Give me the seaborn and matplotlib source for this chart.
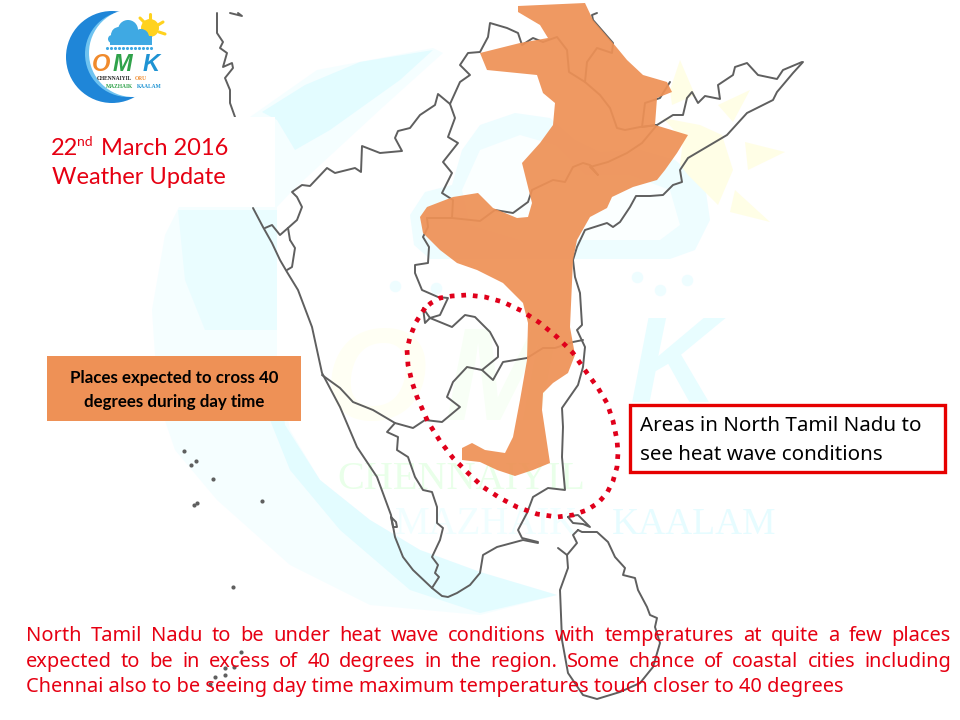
#-*- coding:utf-8 -*-

import numpy as np
from matplotlib import pyplot as plt
from matplotlib.patches import Circle, Rectangle
import seaborn as sns

heat_area = [(518,6),(585,3),(593,20),(613,43),(627,60),(643,75),(667,82),(672,92),(657,98),(655,125),
             (688,135),(677,153),(665,170),(657,180),(633,187),(612,197),(607,208),(590,217),(577,240),
             (573,260),(570,327),(575,355),(568,373),(553,383),(543,393),(542,410),(550,463),(533,470),
             (515,476),(497,470),(480,462),(462,460),(462,448),(472,443),(485,450),(505,453),(513,437),
             (520,400),(527,360),(528,323),(523,303),(503,283),(477,270),(457,263),(440,250),(423,233),
             (420,217),(427,207),(453,197),(478,193),(493,208),(517,218),(528,217),(532,203),(522,163),
             (540,143),(553,125),(555,103),(543,93),(537,75),(487,70),(480,53),(520,43),(548,38),(540,25),(518,12)]

west_coast = [(217,13),(217,33),(223,42),(220,48),(227,53),(223,67),(232,63),(233,68),(225,78),(230,90),(230,103),(235,117)]
top_stub = [(230,13),(242,16),(238,13)]
coast_south = [(253,208),(263,227),(272,243),(280,260),(287,272),(298,290),(312,327),(322,373),(340,407),(357,447),
               (377,477),(391,515),(395,537),(403,557),(413,570),(432,588),(442,596),(448,597),(457,593),(470,585),
               (480,573),(483,555),(497,547),(523,540),(538,543)]
lagoon = [(391,517),(393,527),(397,527),(396,522),(391,517)]
east_coast = [(803,62),(793,73),(777,92),(773,100),(747,113),(727,135),(688,158),(680,170),(682,182),(673,185),
              (663,195),(650,196),(636,196),(630,207),(620,222),(613,227),(607,223),(585,230),(577,247),(573,260),
              (575,277),(580,293),(582,325),(577,330),(585,347),(583,367),(578,385),(562,408),(563,427),(562,457),
              (565,490),(548,488),(533,497),(527,513),(518,530),(522,538),(538,542)]
north_border = [(265,228),(272,225),(280,235),(288,228),(297,220),(302,207),(297,197),(292,192),(302,185),(310,186),
                (327,168),(335,173),(355,168),(361,172),(362,146),(380,153),(402,151),(395,138),(398,131),(410,128),
                (420,115),(435,105),(438,94),(450,104),(460,82),(470,75),(460,65),(468,53),(480,52),(488,37),(490,23),
                (507,28),(518,33),(522,45),(533,38),(543,42)]
inner_1 = [(450,104),(455,118),(448,137),(458,143),(443,162),(452,173),(442,193),(453,200),(452,218)]
inner_2 = [(427,218),(452,218),(480,221),(495,210),(513,213),(528,202),(532,190),(553,180),(565,182),(573,167),(583,163),
           (590,165),(598,175),(590,167),(608,162),(627,153),(642,143),(657,125),(673,115),(683,115),(687,98),(692,92),
           (698,103),(705,96),(720,99),(718,85),(733,75),(735,67),(747,63),(758,75),(777,79),(783,70),(802,62)]
inner_3 = [(543,42),(557,37),(567,50),(569,72),(585,82),(600,95),(610,108),(617,128),(625,130),(640,127),(657,125)]
inner_4 = [(585,82),(587,62),(597,48),(612,53),(613,43),(593,20),(592,15),(597,13)]
inner_5 = [(657,125),(642,127),(645,103),(660,98),(670,82)]
karnataka = [(427,218),(428,227),(423,237),(429,247),(428,263),(415,265),(415,273),(422,290),(438,297),(448,298),(440,315),
             (430,318),(425,323),(423,308),(430,318),(452,327),(465,315),(475,317),(490,332),(498,347),(498,357),(482,370)]
south_border = [(322,375),(340,388),(353,402),(373,410),(395,423),(413,428),(425,420),(442,422),(460,407),(447,397),(453,382),
                (467,367),(482,370),(493,380),(503,362),(527,358),(543,348),(555,348),(573,342),(583,340)]
kerala = [(395,423),(387,432),(398,437),(397,450),(408,457),(415,477),(423,490),(432,492),(437,507),(437,523),(443,528),
          (440,540),(432,557),(438,565),(435,573),(439,577),(432,588)]
goa_loop = [(290,240),(295,248),(292,267),(287,270)]
goa_top = [(288,228),(290,240)]
sri_lanka = [(578,530),(582,532),(597,532),(608,542),(615,557),(625,568),(623,575),(635,578),(638,590),(647,607),(650,615),
             (657,618),(655,627),(660,643),(653,667),(640,683),(620,692),(597,699),(583,695),(568,673),(562,640),(560,590),
             (568,568),(567,555),(577,543),(573,535),(578,530)]
sri_lanka_spit = [(567,555),(558,548)]
mannar = [(568,517),(573,523),(583,524),(590,527),(585,522),(578,515),(570,516),(568,517)]
map_lines = [west_coast, top_stub, coast_south, lagoon, east_coast, north_border, inner_1, inner_2, inner_3, inner_4,
             inner_5, karnataka, south_border, kerala, goa_loop, goa_top, sri_lanka, sri_lanka_spit, mannar]

islands_x = [184,196,191,213,197,194,262,233,241,234,225,225,215,210]
islands_y = [451,461,465,479,503,505,501,587,652,667,668,675,677,684]

circle_line = [(425,308),(416,322),(410,337),(407,350),(408,365),(412,382),(417,397),(428,422),(440,441),(453,458),(468,473),
               (483,487),(500,498),(517,507),(537,514),(557,517),(573,515),(587,510),(598,503),(607,493),(613,481),(617,467),
               (618,453),(617,440),(613,421),(607,403),(598,388),(587,373),(573,353),(557,337),(540,323),(522,311),(503,302),
               (485,297),(467,295),(452,296),(440,298),(431,303),(425,308)]

moon_pale = [(433,48),(317,70),(250,117),(200,165),(165,235),(152,310),(158,400),(175,450),(217,500),(290,565),(370,605),
             (480,615),(557,595),(480,572),(420,550),(370,520),(320,480),(290,430),(277,360),(277,207),(293,190),(383,107),(443,53)]
moon_wedge = [(433,50),(360,62),(305,85),(262,112),(277,120),(295,150),(330,130),(400,80)]
moon_side = [(178,210),(277,210),(277,330),(205,330),(185,280)]
moon_band = [(277,360),(285,425),(320,480),(370,520),(420,550),(480,572),(557,595),(480,613),(410,590),(340,530),(290,470),(270,420)]
cloud = [(430,259),(414,245),(410,215),(425,192),(452,185),(462,150),(480,125),(515,113),(550,118),(575,140),(600,152),(640,150),
         (675,160),(705,185),(710,220),(695,250),(670,259)]
cloud_hole = [(470,225),(462,190),(480,150),(520,135),(555,145),(585,175),(630,175),(670,190),(680,225),(660,240),(520,240)]
sun_body = [(663,118),(700,125),(722,135),(733,170),(718,205),(688,175),(680,165),(683,140)]
sun_rays = [[(680,60),(695,95),(672,105),(670,90)],
            [(750,90),(718,105),(733,122)],
            [(745,142),(785,152),(748,170)],
            [(735,190),(770,222),(730,212)]]
rain_x = [395,436,637,660,687]
rain_y = [286,288,277,290,280]

title_lines = ["March 2016", "Weather Update"]
legend_lines = ["Places expected to cross 40", "degrees during day time"]
note_lines = ["Areas in North Tamil Nadu to", "see heat wave conditions"]
body_lines = ["North Tamil Nadu to be under heat wave conditions with temperatures at quite a few places",
              "expected to be in excess of 40 degrees in the region.  Some chance of coastal cities including",
              "Chennai also to be seeing day time maximum temperatures touch closer to 40 degrees"]

RED = '#E60012'
ORANGE = '#EE9156'
LINE = '#5F5F5F'
PALE = '#F5FEFF'
CYAN = '#E3FCFF'
YELLOW = '#FFFEE6'


def xy(points):
    return [p[0] for p in points], [p[1] for p in points]


def justified(ax, line, x0, x1, y, **kw):
    # write a line word by word so that it fills x0..x1
    renderer = ax.figure.canvas.get_renderer()
    words = line.split()
    texts = [ax.text(x0, y, w, va='baseline', ha='left', **kw) for w in words]
    widths = [t.get_window_extent(renderer).width for t in texts]
    gap = (x1 - x0 - sum(widths)) / (len(words) - 1)
    x = x0
    for t, w in zip(texts, widths):
        t.set_x(x)
        x += w + gap


def logo(ax):
    ax.add_patch(Circle((112, 57), 46, fc='#1F86D8', ec='none', zorder=6))
    ax.add_patch(Circle((128, 54), 43, fc='#6FC3F0', ec='none', zorder=6.1))
    ax.add_patch(Circle((133, 53), 44, fc='white', ec='none', zorder=6.2))
    ax.add_patch(Circle((150, 28), 9, fc='#FFD21E', ec='none', zorder=6.3))
    for a, b in [((150,14),(150,19)), ((163,22),(158,25)), ((165,34),(159,32)), ((140,18),(144,22))]:
        ax.plot(*xy([a, b]), color='#FFD21E', lw=2.2, zorder=6.3)
    for c, r in [((119,35),8), ((128,30),10), ((141,37),8), ((112,39),4)]:
        ax.add_patch(Circle(c, r, fc='#3FA9E3', ec='none', zorder=6.4))
    ax.add_patch(Rectangle((110, 36), 42, 9, fc='#3FA9E3', ec='none', zorder=6.4))
    sns.scatterplot(x=[107+4*i for i in range(12)], y=[48]*12, s=5, color='#3FA9E3', linewidth=0, ax=ax, zorder=6.5, legend=False)
    ax.text(92, 71, 'O', color='#F08A2C', fontsize=17, fontweight='bold', style='italic', family='Liberation Sans', zorder=7)
    ax.text(113, 71, 'M', color='#2FA24A', fontsize=17, fontweight='bold', style='italic', family='Liberation Sans', zorder=7)
    ax.text(143, 71, 'K', color='#1E93D3', fontsize=17, fontweight='bold', style='italic', family='Liberation Sans', zorder=7)
    ax.text(97, 80, 'CHENNAIYIL', color='#222222', fontsize=4, fontweight='bold', family='Liberation Serif', zorder=7)
    ax.text(135, 80, 'ORU', color='#F08A2C', fontsize=4, fontweight='bold', family='Liberation Serif', zorder=7)
    ax.text(106, 88, 'MAZHAIK', color='#2FA24A', fontsize=4, fontweight='bold', family='Liberation Serif', zorder=7)
    ax.text(137, 88, 'KAALAM', color='#1E93D3', fontsize=4, fontweight='bold', family='Liberation Serif', zorder=7)


def main():
    sns.set_theme(style='white')
    plt.rcParams['font.family'] = ['Lato', 'DejaVu Sans']

    fig = plt.figure(figsize=(9.6, 7.2), dpi=100)
    ax = fig.add_axes([0, 0, 1, 1])
    ax.set_xlim(0, 960)
    ax.set_ylim(720, 0)
    ax.axis('off')

    # washed out logo behind the map
    ax.fill(*xy(moon_pale), color=PALE, lw=0, zorder=1)
    ax.fill(*xy(moon_wedge), color=CYAN, lw=0, zorder=1.1)
    ax.fill(*xy(moon_side), color='#EAFDFF', lw=0, zorder=1.1)
    ax.fill(*xy(moon_band), color=CYAN, lw=0, zorder=1.1)
    ax.fill(*xy(cloud), color='#EEFDFF', lw=0, zorder=1.2)
    ax.fill(*xy(cloud_hole), color='#FBFFFF', lw=0, zorder=1.3)
    ax.fill(*xy(sun_body), color=YELLOW, lw=0, zorder=1.2)
    for ray in sun_rays:
        ax.fill(*xy(ray), color=YELLOW, lw=0, zorder=1.2)
    sns.scatterplot(x=rain_x, y=rain_y, s=70, color='#EEFDFF', linewidth=0, ax=ax, zorder=1.2, legend=False)
    ax.text(325, 420, 'O', color='#FFFFF4', fontsize=95, fontweight='bold', style='italic', family='Liberation Sans', zorder=1.3)
    ax.text(445, 420, 'M', color='#F8FFF6', fontsize=95, fontweight='bold', style='italic', family='Liberation Sans', zorder=1.3)
    ax.text(630, 402, 'K', color='#E8FDFF', fontsize=88, fontweight='bold', style='italic', family='Liberation Sans', zorder=1.3)
    ax.text(337, 489, 'CHENNAIYIL', color='#E9FFE9', fontsize=29, family='Liberation Serif', zorder=1.4)
    ax.text(395, 534, 'MAZHAIK', color='#F0FEFF', fontsize=28, family='Liberation Serif', zorder=1.4)
    ax.text(612, 534, 'KAALAM', color='#E6FCFF', fontsize=27, family='Liberation Serif', zorder=1.4)

    for points in map_lines:
        px, py = xy(points)
        sns.lineplot(x=px, y=py, sort=False, estimator=None, color=LINE, lw=1.4, ax=ax, zorder=2, legend=False)
    sns.scatterplot(x=islands_x, y=islands_y, s=9, color=LINE, linewidth=0, ax=ax, zorder=2, legend=False)

    ax.fill(*xy(heat_area), color=ORANGE, alpha=0.93, lw=0, zorder=3)

    px, py = xy(circle_line)
    ax.plot(px, py, color='#E0001B', lw=3.4, ls=(0, (1, 1.45)), zorder=4)

    # title panel hides the map under it
    ax.add_patch(Rectangle((47, 117), 228, 90, fc='white', ec='none', zorder=5))
    logo(ax)
    ax.text(51, 155, '22', color=RED, fontsize=17, zorder=7)
    ax.text(77, 146, 'nd', color=RED, fontsize=10, zorder=7)
    ax.text(101, 155, title_lines[0], color=RED, fontsize=17, zorder=7)
    ax.text(52, 184, title_lines[1], color=RED, fontsize=17, zorder=7)

    ax.add_patch(Rectangle((47, 356), 254, 65, fc=ORANGE, ec='none', zorder=5))
    ax.text(174, 383, legend_lines[0], ha='center', color='black', fontsize=12.2, fontweight='bold', zorder=7)
    ax.text(174, 407, legend_lines[1], ha='center', color='black', fontsize=12.2, fontweight='bold', zorder=7)

    ax.add_patch(Rectangle((630, 405), 315, 67, fc='white', ec='#E60000', lw=2.4, zorder=5))
    ax.text(640, 431, note_lines[0], color='black', fontsize=14.8, family='Noto Sans', zorder=7)
    ax.text(640, 460, note_lines[1], color='black', fontsize=14.8, family='Noto Sans', zorder=7)

    fig.canvas.draw()
    justified(ax, body_lines[0], 26, 951, 641, color=RED, fontsize=14.4, family='Noto Sans', zorder=7)
    justified(ax, body_lines[1], 26, 951, 667, color=RED, fontsize=14.4, family='Noto Sans', zorder=7)
    ax.text(26, 692, body_lines[2], color=RED, fontsize=14.4, family='Noto Sans', zorder=7)

    fig.savefig('out.png', dpi=100)


if __name__=='__main__':
    main()
